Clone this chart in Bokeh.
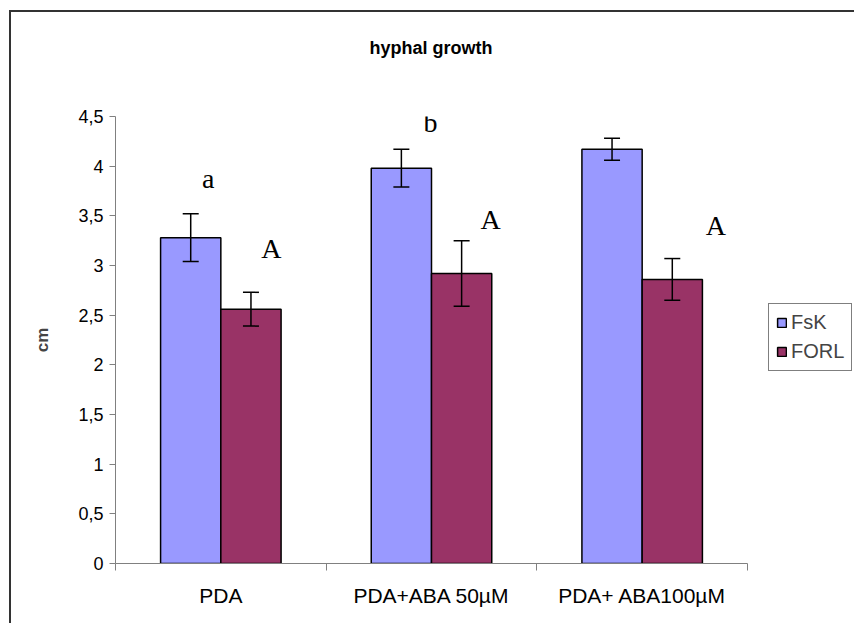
from bokeh.plotting import figure
from bokeh.models import (Range1d, FixedTicker, ColumnDataSource, Legend, LegendItem,
                          Whisker, TeeHead, Title)
from bokeh.core.properties import value
from bokeh.embed import file_html
from bokeh.resources import INLINE

# ---- data ----
categories = ["PDA", "PDA+ABA 50\u00b5M", "PDA+ ABA100\u00b5M"]
series_names = ["FsK", "FORL"]
fsk_mean = [3.28, 3.98, 4.17]
fsk_err = [0.24, 0.19, 0.11]
forl_mean = [2.56, 2.92, 2.86]
forl_err = [0.17, 0.33, 0.21]
y_ticks = [0, 0.5, 1, 1.5, 2, 2.5, 3, 3.5, 4, 4.5]
y_tick_labels = ["0", "0,5", "1", "1,5", "2", "2,5", "3", "3,5", "4", "4,5"]
y_max = 4.5
title_text = "hyphal growth"
# significance letters (text, category index, x offset from category centre, y value)
sig_text = ["a", "A", "b", "A", "b", "A"]
sig_cat = [0, 0, 1, 1, 2, 2]
sig_dx = [-0.06, 0.24, -0.005, 0.28, 0.04, 0.35]
sig_y = [3.88, 3.17, 4.44, 3.46, 4.62, 3.40]

colors = ["#9999FF", "#993366"]
bar_w = 0.286
offs = [-0.143, 0.143]

# layout (pixels)
W, H = 845, 613
left, bottom, top = 104, 62, 104
axis_len_x = 632
frame_w = W - left
n = len(categories)
x_end = n * frame_w / axis_len_x

p = figure(width=W, height=H, output_backend="svg", toolbar_location=None,
           x_range=Range1d(0, x_end), y_range=Range1d(0, y_max),
           min_border_left=left, min_border_right=0, min_border_top=top,
           min_border_bottom=bottom)
p.styles = {"margin-left": "9px", "margin-top": "10px",
            "border-top": "2px solid #333333", "border-left": "2px solid #333333"}
p.outline_line_color = None
p.grid.visible = False
p.background_fill_color = "white"
p.border_fill_color = "white"

# spacer panel between frame and title, then the title itself
p.add_layout(Title(text=" ", text_font_size="1px", standoff=54), "above")
p.add_layout(Title(text=title_text, align="left", offset=254, standoff=0,
                   vertical_align="top", text_font="Liberation Sans",
                   text_font_size="18px", text_font_style="bold",
                   text_color="black"), "above")

renderers = []
for k, (means, errs) in enumerate([(fsk_mean, fsk_err), (forl_mean, forl_err)]):
    xs = [i + 0.5 + offs[k] for i in range(n)]
    src = ColumnDataSource(dict(x=xs, top=means,
                                upper=[m + e for m, e in zip(means, errs)],
                                lower=[m - e for m, e in zip(means, errs)]))
    r = p.vbar(x="x", top="top", bottom=0, width=bar_w, source=src,
               fill_color=colors[k], line_color="black", line_width=1.5)
    renderers.append(r)
    w = Whisker(base="x", upper="upper", lower="lower", source=src,
                line_color="black", line_width=1.5, level="overlay",
                upper_head=TeeHead(size=16, line_color="black", line_width=1.5),
                lower_head=TeeHead(size=16, line_color="black", line_width=1.5))
    p.add_layout(w)

tsrc = ColumnDataSource(dict(x=[c + 0.5 + d for c, d in zip(sig_cat, sig_dx)],
                             y=sig_y, t=sig_text))
p.text(x="x", y="y", text="t", source=tsrc, text_font=value("Liberation Serif"),
       text_font_size="28px", text_align="center", text_baseline="middle",
       text_color="black")

# axes
ax = p.xaxis[0]
ax.bounds = (0, n)
ax.ticker = FixedTicker(ticks=[i + 0.5 for i in range(n)],
                        minor_ticks=list(range(n + 1)))
ax.major_label_overrides = {i + 0.5: c for i, c in enumerate(categories)}
ax.major_tick_out = 0
ax.major_tick_in = 0
ax.minor_tick_out = 7
ax.minor_tick_in = 0
ax.minor_tick_line_color = "#808080"
ax.axis_line_color = "#808080"
ax.major_label_text_font = "Liberation Sans"
ax.major_label_text_font_size = "21px"
ax.major_label_text_color = "black"
ax.major_label_standoff = 13

ay = p.yaxis[0]
ay.bounds = (0, y_max)
ay.ticker = FixedTicker(ticks=y_ticks, minor_ticks=[])
ay.major_label_overrides = {t: l for t, l in zip(y_ticks, y_tick_labels)}
ay.major_tick_out = 6
ay.major_tick_in = 0
ay.major_tick_line_color = "#808080"
ay.axis_line_color = "#808080"
ay.major_label_text_font = "Liberation Sans"
ay.major_label_text_font_size = "18px"
ay.major_label_text_color = "black"
ay.major_label_standoff = 6
ay.axis_label = "cm"
ay.axis_label_text_font = "Liberation Sans"
ay.axis_label_text_font_size = "17px"
ay.axis_label_text_font_style = "bold"
ay.axis_label_standoff = 23

legend = Legend(items=[LegendItem(label=s, renderers=[r]) for s, r in zip(series_names, renderers)],
                location=(653, 192), orientation="vertical")
legend.border_line_color = "black"
legend.border_line_width = 1
legend.background_fill_color = "white"
legend.label_text_font = "Liberation Sans"
legend.label_text_font_size = "20px"
legend.label_height = 16
legend.glyph_width = 11
legend.glyph_height = 11
legend.label_standoff = 4
legend.spacing = 6
legend.padding = 7
legend.margin = 0
p.add_layout(legend)

open("out.html", "w").write(file_html(p, INLINE))
